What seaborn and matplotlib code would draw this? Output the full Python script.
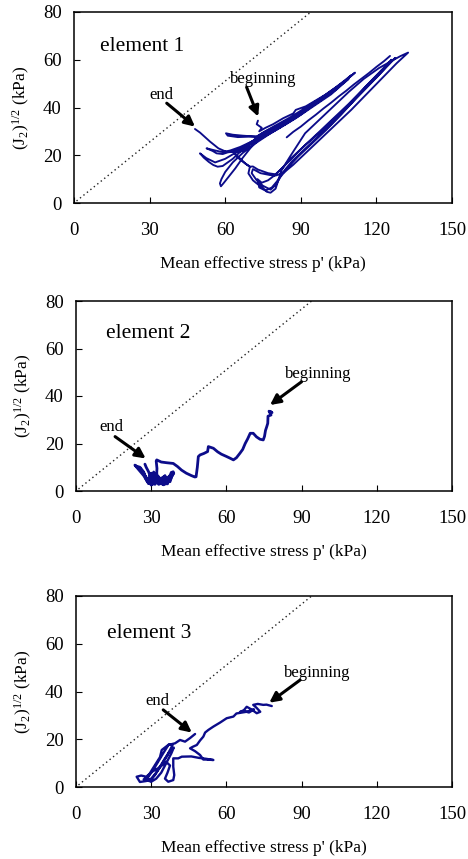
import numpy as np
import pandas as pd
import matplotlib
matplotlib.use("Agg")
import matplotlib.pyplot as plt
import seaborn as sns

# ---------------- data ----------------
x_ticks = [0, 30, 60, 90, 120, 150]
y_ticks = [0, 20, 40, 60, 80]
x_label = "Mean effective stress p' (kPa)"
y_label = r"(J$_2$)$^{1/2}$ (kPa)"
panel_titles = ["element 1", "element 2", "element 3"]

# failure (dotted) line
line_p = [1.0, 94.0]
line_q = [0.85, 80.0]

# element 1 stress path (segments identified by e1_seg)
e1_p = [73.0, 72.5, 74.5, 73.5, 76, 79, 83, 87, 88, 92, 96, 100, 104, 108, 111.5,
        107, 102, 96, 90, 85, 80, 76, 72.5, 67, 63, 60.3,
        61, 65, 70, 72.5, 75, 80, 86, 92, 98, 104, 110,
        104, 97, 90, 84, 78, 72, 66, 62, 59, 56, 52.6,
        55, 56.6, 59, 61, 63, 67, 71, 75, 79, 85, 91, 97, 103, 109,
        102, 95, 88, 81, 75, 69, 64, 60, 56, 52.5, 50,
        51.5, 53.5, 55.3, 57, 59, 63, 66, 69, 72, 76, 80, 86, 93, 100, 106,
        98, 90, 83, 77, 72, 67, 63, 60, 58.5, 57.9, 58.3, 59.5, 61, 64, 67, 70, 74, 78,
        74, 70, 66, 63.2, 66, 67.9, 69.8, 69.2, 71, 72.5, 74.5, 76.5, 78, 80, 82.4, 85.7, 91.7, 97, 103, 109, 115, 121, 126, 129.5, 132.6,
        128, 122, 116, 110, 104, 98, 92, 87, 83, 80, 77.8, 74, 71, 70.5, 72.5, 75, 78, 80, 82, 85, 89, 94, 100, 106, 112, 118, 123, 126,
        121, 115, 109, 103, 97, 91, 86, 82.5, 79.5, 77, 74.5, 72.8, 73.5, 76, 78.5, 80.5, 83, 86.5, 91, 96, 102, 108, 114, 120, 124.5, 127.5,
        122, 116, 110, 104, 98, 92, 87, 83, 80, 77, 73, 71, 69.8, 67.9, 65, 63.2, 60.5, 57.3, 54, 50, 48,
        84.4, 87, 90, 93, 96, 99, 102, 105, 108, 111, 114, 117, 120, 123, 125.4]
e1_q = [34.5, 33.0, 31.5, 30.0, 31.5, 33, 35.5, 37.5, 39, 40.5, 43, 45.5, 48.5, 51.5, 54.6,
        50.5, 46.5, 42, 38, 35, 32, 30, 27.8, 28.2, 28.6, 29.2,
        28.2, 27.6, 27.8, 27.8, 29.5, 32.5, 36, 40, 44, 48.5, 53.5,
        47.5, 42.5, 37, 33, 29.5, 26.5, 23.5, 22, 21.3, 22.0, 22.9,
        21.8, 20.8, 20.5, 21.2, 21.5, 23.5, 26, 28.5, 31, 34.5, 38.5, 42.5, 47, 52,
        45.5, 40.5, 35.5, 31, 27.5, 24, 21, 18.5, 17, 18.8, 20.8,
        19, 17.2, 15.9, 15.2, 15.5, 18.5, 21.5, 24, 27, 29.5, 32, 35.5, 40, 45, 49.5,
        43, 37.5, 32.5, 28.5, 25, 21, 17, 13, 10, 8.2, 7.0, 8.5, 10.5, 14.5, 19, 23, 27.5, 30,
        27, 23.5, 21.5, 21.4, 18.5, 16.6, 15.2, 12.4, 9.5, 8.2, 6.8, 4.7, 4.3, 6, 13.8, 19.4, 29.2, 34.5, 40.5, 46.5, 52, 56.5, 59.5, 61.5, 63,
        58.5, 52, 45.5, 39, 33, 27, 21, 16, 12.5, 11.5, 11.7, 12.5, 14.2, 12.5, 9.5, 7.2, 5.6, 7.5, 11, 15, 19.5, 24.5, 30.5, 37, 44, 50.5, 56, 60,
        54.5, 48, 41.5, 35.5, 29.5, 23.5, 18.5, 14.5, 11.5, 9.5, 8.5, 10, 6.5, 5.2, 6.5, 9, 13, 17.5, 22, 27, 33, 39.5, 46, 52.5, 57.5, 60.8,
        55.5, 49, 42, 36, 30, 24.5, 19.5, 15, 12, 12.5, 14, 15.3, 15.2, 16.6, 19, 21.4, 21.4, 22.9, 25.7, 29.5, 31,
        27.5, 29.8, 32.0, 34.6, 37.0, 39.6, 42.0, 44.6, 47.0, 49.6, 52.0, 54.4, 57.0, 59.4, 61.6]
e1_seg = [0] * (len(e1_p) - 15) + [1] * 15

# element 2 stress path
e2_p = [77.7, 78.2, 77.0, 77.8, 76.6, 76.5, 76.1, 75.6, 75.2, 74.7, 73.4, 72.0, 70.7, 69.5, 68.5, 67.5,
        66.5, 65.4, 64, 62.8, 61.5, 60.1, 58, 56.5, 54.8, 52.8, 52.5, 51, 49.5, 48.8, 48.4, 47.9,
        47.4, 46, 44, 42.1, 40.5, 38.8, 36.2, 34, 32.2, 32.0, 32.3, 32.2, 32.9,
        34, 35.5, 36.5, 38, 38.8, 37.5, 36, 34.5, 33, 31.5, 30, 29, 28, 27, 25.5, 24, 23.5,
        25, 27, 28.9, 30.5, 31, 32, 33.5, 35, 37, 38.5, 36.5, 34, 31.5, 30, 28.5, 27, 25.5,
        26.5, 28.5, 30, 31.5, 33, 34.5, 36, 37.5, 39, 37, 35, 33, 31, 29.5, 29, 30.5, 32,
        34, 36, 35, 33, 31, 30, 29, 28, 27.5]
e2_q = [33.4, 33.0, 33.6, 32.0, 31.5, 28.5, 27.1, 25.5, 23, 21.5, 21.8, 22.8, 24.3, 24.3, 22, 20,
        17.5, 15.9, 14, 13.1, 13.8, 14.5, 15.5, 16.5, 18, 18.7, 16.6, 15.8, 15.2, 14.5, 10, 6.0,
        5.9, 6.5, 7.5, 8.8, 10.3, 11.6, 11.9, 12.2, 13.1, 12.6, 9.5, 7.4, 4.6,
        3.2, 6.5, 3.0, 7.8, 8.1, 3.9, 5.5, 2.8, 6, 2.8, 7.5, 3.2, 5, 8, 10, 10.5, 10.9,
        9, 6.5, 3.2, 4.5, 8, 5, 3, 4, 6, 7.5, 3.5, 4.5, 3.5, 5.5, 4, 7.5, 9.5,
        8, 5, 2.5, 4.5, 2.8, 5.5, 3.2, 6.5, 7.5, 4, 2.6, 5, 3, 6.5, 4, 2.8, 5.5,
        4, 3, 6, 4.5, 6.5, 5, 8, 10, 11.3]

# element 3 stress path
e3_p = [78.1, 76, 74.7, 72.5, 70.7, 72, 73.5, 72.1, 70, 68.1, 67, 65.4, 67, 69, 71, 68, 64,
        62.8, 60.1, 57.5, 54.8, 52.8, 51.5, 50.8, 49.5, 48.2, 46.5, 45.5, 47.5, 49.5, 50.8, 52,
        54.8, 52, 49, 46, 42.2, 40.8, 38.8, 38.8, 39.2, 38.8, 36.8, 35.5, 36.5, 37.5, 36, 33,
        30.5, 28, 26, 24.2, 25.5, 28, 30, 32, 34, 36, 37.5, 38.5, 37, 35, 33, 31, 29, 27,
        29.5, 31.5, 33.5, 35.5, 37.5, 39, 38, 36, 34, 32, 30, 28.5, 30.2, 32, 33.5, 34.2,
        36.8, 39.5, 41.5, 43.5, 45.5, 47.5]
e3_q = [33.9, 34.5, 34.4, 34.8, 34.4, 33.2, 31.5, 30.9, 32.5, 33.6, 32.2, 31.4, 31.8, 31.2, 32.5, 31.5, 30.8,
        29.5, 28.8, 27, 25.3, 23.9, 22.8, 21.1, 19.5, 17.6, 16.8, 16.2, 15, 13.4, 11.5, 11.5,
        11.3, 11.8, 12.2, 12.8, 12.7, 12, 12, 8.5, 5, 2.9, 2.2, 3.5, 6, 9, 10.5, 8,
        6.5, 4.3, 4.8, 4.3, 2.1, 2.5, 3.5, 6, 9, 12.5, 15.5, 17.5, 17.8, 14.5, 11, 7.5, 4.5, 3.2,
        2.4, 5, 8.5, 12, 15, 16.5, 14, 10, 6, 3.5, 2.2, 4, 7, 10, 12.5, 15.5,
        17.6, 18.3, 19.7, 19, 20.5, 22.2]

# annotation anchors: (text x, text y, arrow start x, y, arrow tip x, y)
end_notes = [(34.8, 45.2, 36.8, 41.8, 48.0, 32.0),
             (14.0, 27.1, 15.6, 22.9, 27.8, 13.7),
             (32.6, 36.2, 34.8, 32.3, 46.2, 22.8)]
begin_notes = [(75.1, 51.8, 68.5, 48.5, 73.1, 36.2),
               (96.7, 49.1, 90.0, 46.0, 77.4, 36.2),
               (96.3, 47.9, 89.4, 44.8, 77.1, 35.3)]
title_pos = [(10.3, 65.5), (12.0, 66.4), (12.5, 64.4)]

# ---------------- style ----------------
sns.set_style("white")
plt.rcParams['font.family'] = ['Liberation Serif', 'DejaVu Serif']
plt.rcParams['mathtext.fontset'] = 'custom'
plt.rcParams['mathtext.rm'] = 'Liberation Serif'
plt.rcParams['mathtext.it'] = 'Liberation Serif'
plt.rcParams['text.color'] = 'black'
plt.rcParams['axes.labelcolor'] = 'black'
plt.rcParams['xtick.color'] = 'black'
plt.rcParams['ytick.color'] = 'black'

navy = '#0c0c8a'
W, H = 468, 859
fig = plt.figure(figsize=(W / 100, H / 100), dpi=100)

boxes = [(74, 12, 452, 203), (76, 301, 452, 491), (76, 596, 452, 787)]
paths = [
    pd.DataFrame({'p': e1_p, 'q': e1_q, 'seg': e1_seg}),
    pd.DataFrame({'p': e2_p, 'q': e2_q, 'seg': [0] * len(e2_p)}),
    pd.DataFrame({'p': e3_p, 'q': e3_q, 'seg': [0] * len(e3_p)}),
]
lws = [1.35, 2.0, 1.7]
line_df = pd.DataFrame({'p': line_p, 'q': line_q})

for i, (l, t, r, b) in enumerate(boxes):
    ax = fig.add_axes([l / W, 1 - b / H, (r - l) / W, (b - t) / H])
    sns.lineplot(data=line_df, x='p', y='q', ax=ax, color='#222222', lw=1.0,
                 linestyle=(0, (1, 2.2)), sort=False, estimator=None)
    sns.lineplot(data=paths[i], x='p', y='q', units='seg', estimator=None, sort=False,
                 ax=ax, color=navy, lw=lws[i])
    ax.set_xlim(0, 150)
    ax.set_ylim(0, 80)
    ax.set_xticks(x_ticks)
    ax.set_yticks(y_ticks)
    ax.tick_params(axis='x', direction='in', length=4, width=0.8, labelsize=13.5, pad=14,
                   bottom=True, top=False)
    ax.tick_params(axis='y', direction='in', length=4, width=0.8, labelsize=13.5, pad=9,
                   left=True, right=False)
    for s in ax.spines.values():
        s.set_linewidth(1.1)
        s.set_color('black')
    ax.set_xlabel(x_label, fontsize=12.5, labelpad=12)
    ax.set_ylabel(y_label, fontsize=12.5, labelpad=8)
    ax.text(title_pos[i][0], title_pos[i][1], panel_titles[i], fontsize=15.5,
            ha='left', va='center')
    tx, ty, sx, sy, ex, ey = end_notes[i]
    ax.text(tx, ty, 'end', fontsize=12, ha='center', va='center')
    ax.annotate('', xy=(ex, ey), xytext=(sx, sy),
                arrowprops=dict(arrowstyle='-|>,head_length=0.6,head_width=0.3',
                                lw=2.2, color='black', shrinkA=0, shrinkB=0))
    tx, ty, sx, sy, ex, ey = begin_notes[i]
    ax.text(tx, ty, 'beginning', fontsize=12, ha='center', va='center')
    ax.annotate('', xy=(ex, ey), xytext=(sx, sy),
                arrowprops=dict(arrowstyle='-|>,head_length=0.6,head_width=0.3',
                                lw=2.2, color='black', shrinkA=0, shrinkB=0))

fig.savefig('out.png', dpi=100)
